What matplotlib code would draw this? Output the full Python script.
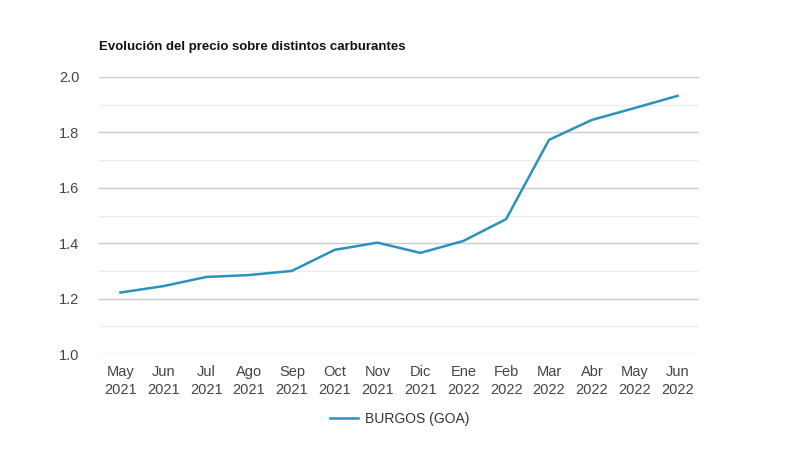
import numpy as np
import matplotlib
matplotlib.use("Agg")
import matplotlib.pyplot as plt

# Data
months = ["May\n2021", "Jun\n2021", "Jul\n2021", "Ago\n2021", "Sep\n2021", "Oct\n2021", "Nov\n2021",
          "Dic\n2021", "Ene\n2022", "Feb\n2022", "Mar\n2022", "Abr\n2022", "May\n2022", "Jun\n2022"]
precio_goa = [1.222, 1.245, 1.278, 1.285, 1.300, 1.376, 1.402, 1.365, 1.408, 1.487,
              1.773, 1.845, 1.888, 1.932]
serie_name = "BURGOS (GOA)"
title = "Evolución del precio sobre distintos carburantes"

plt.rcParams['font.family'] = ['Liberation Sans', 'DejaVu Sans']

fig = plt.figure(figsize=(7.99, 4.49), dpi=100)
ax = fig.add_axes([99 / 799, 1 - 354 / 449, 600 / 799, 277 / 449])

x = np.arange(len(months))
ax.plot(x, precio_goa, color='#2a92bf', lw=1.8, label=serie_name, zorder=3)

ax.set_xlim(-0.5, len(months) - 0.5)
ax.set_ylim(1.0, 2.0)
ax.set_yticks([1.0, 1.2, 1.4, 1.6, 1.8, 2.0])
ax.set_yticklabels(["1.0", "1.2", "1.4", "1.6", "1.8", "2.0"])
ax.set_yticks(np.arange(1.1, 2.0, 0.2), minor=True)
ax.grid(axis='y', which='major', color='#cccccc', lw=1)
ax.grid(axis='y', which='minor', color='#ececec', lw=1)
ax.set_xticks(x)
ax.set_xticklabels(months, linespacing=1.35)
ax.tick_params(axis='both', which='both', length=0, labelsize=10.5, colors='#444444')
ax.tick_params(axis='x', pad=8)
ax.tick_params(axis='y', pad=14)
for s in ax.spines.values():
    s.set_visible(False)

fig.text(99 / 799, 1 - 47 / 449, title, fontsize=9.5, fontweight='bold', color='#111111', va='center')

leg = fig.legend(loc='center', bbox_to_anchor=(400 / 799, 1 - 419 / 449), frameon=False,
                 fontsize=10, handlelength=2.0, handletextpad=0.5)
for t in leg.get_texts():
    t.set_color('#333333')

fig.savefig("out.png", dpi=100)
